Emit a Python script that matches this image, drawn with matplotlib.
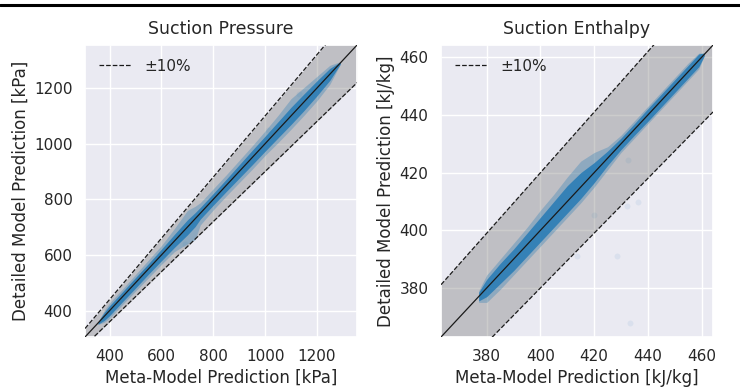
import numpy as np
import matplotlib
matplotlib.use("Agg")
import matplotlib.pyplot as plt
import seaborn as sns
from matplotlib.lines import Line2D

# ---- data ----
# suction pressure [kPa]: cloud envelope as residuals (detailed - meta) along meta axis
p_x = [355, 380, 400, 450, 500, 550, 600, 650, 700, 730, 750, 800, 850, 900, 950,
       1000, 1050, 1100, 1150, 1200, 1250, 1290]
p_halo_hi = [5, 22, 28, 28, 30, 32, 34, 45, 60, 45, 38, 38, 38, 40, 42,
             46, 52, 62, 52, 42, 32, 5]
p_halo_lo = [-5, -22, -28, -28, -30, -32, -34, -38, -60, -75, -42, -38, -38, -40, -42,
             -42, -46, -48, -48, -46, -36, -5]
p_core_hi = [4, 15, 18, 18, 19, 19, 21, 24, 26, 22, 21, 21, 22, 24, 26,
             27, 29, 31, 29, 26, 21, 4]
p_core_lo = [-4, -15, -18, -18, -19, -19, -21, -23, -28, -28, -21, -21, -22, -24, -26,
             -27, -29, -31, -31, -28, -22, -4]
p_outx = [1010, 1130, 690]
p_outy = [1050, 1180, 640]

# suction enthalpy [kJ/kg]
e_x = [377, 380, 385, 390, 395, 400, 405, 410, 415, 420, 425, 430, 435,
       440, 445, 450, 455, 459, 461]
e_halo_hi = [2, 4.5, 5, 5.5, 6, 7, 7.5, 8.5, 9, 7, 4, 3, 3, 3, 3, 3, 3, 2.5, 0.5]
e_halo_lo = [-2, -5, -5.5, -5.5, -5.5, -5.5, -5.5, -5.5, -5.5, -5, -4, -3, -3, -3, -3, -3, -3, -3, -0.5]
e_core_hi = [1.5, 3, 3.5, 3.5, 4, 4.5, 5, 5.5, 5, 3.5, 2.5, 2, 2, 2.2, 2.2, 2.2, 2.2, 2.2, 0.5]
e_core_lo = [-1.5, -3, -3.5, -4, -4, -4, -4, -4, -4, -3.5, -2.5, -2, -2,
             -2.2, -2.2, -2.2, -2.2, -2.2, -0.5]
e_outx = [432.8, 432.1, 436.5, 428.4, 413.6, 433.4, 419.8]
e_outy = [424.4, 408.3, 410.0, 391.0, 391.0, 367.9, 405.4]

p_lim = (305, 1355)
e_lim = (363, 464.3)
p_ticks = [400, 600, 800, 1000, 1200]
e_ticks = [380, 400, 420, 440, 460]

sns.set_theme(style="darkgrid")
plt.rcParams['font.family'] = ['DejaVu Sans']

fig = plt.figure(figsize=(7.4, 3.89), dpi=100)
ax1 = fig.add_axes([0.1149, 0.1337, 0.3676, 0.7506])
ax2 = fig.add_axes([0.596, 0.1337, 0.3676, 0.7506])

blue = '#1f77b4'


def draw_panel(ax, lim, band, x, hlo, hhi, clo, chi, ox, oy, ticks, title, unit):
    x = np.array(x, dtype=float)
    lo, hi = lim
    ref = np.array([lo, hi])
    ax.fill_between(ref, ref * (1 - band), ref * (1 + band), color='gray',
                    alpha=0.4, lw=0, zorder=2)
    ax.plot(ref, ref * (1 + band), 'k--', lw=0.9, zorder=4, label='±10%')
    ax.plot(ref, ref * (1 - band), 'k--', lw=0.9, zorder=4)
    ax.fill_between(x, x + np.array(hlo), x + np.array(hhi), color=blue,
                    alpha=0.3, lw=0, zorder=3)
    ax.fill_between(x, x + np.array(clo), x + np.array(chi), color=blue,
                    alpha=0.8, lw=0, zorder=3)
    ax.scatter(ox, oy, s=18, color=blue, alpha=0.08, lw=0, zorder=3)
    ax.plot(ref, ref, 'k-', lw=0.9, zorder=5)
    ax.set_xlim(lim)
    ax.set_ylim(lim)
    ax.set_xticks(ticks)
    ax.set_yticks(ticks)
    ax.tick_params(labelsize=11, pad=3)
    ax.set_title(title, fontsize=12.5, color='.15', pad=8)
    ax.set_xlabel(f'Meta-Model Prediction [{unit}]', fontsize=12, labelpad=3)
    ax.set_ylabel(f'Detailed Model Prediction [{unit}]', fontsize=12, labelpad=3)
    ax.legend(loc='upper left', frameon=False, fontsize=11, handlelength=2.2)


draw_panel(ax1, p_lim, 0.10, p_x, p_halo_lo, p_halo_hi, p_core_lo, p_core_hi,
           p_outx, p_outy, p_ticks, 'Suction Pressure', 'kPa')
draw_panel(ax2, e_lim, 0.05, e_x, e_halo_lo, e_halo_hi, e_core_lo, e_core_hi,
           e_outx, e_outy, e_ticks, 'Suction Enthalpy', 'kJ/kg')

# page rule across the top
fig.add_artist(Line2D([0, 1], [0.987, 0.987], color='black', lw=2.2,
                      transform=fig.transFigure))

fig.savefig('out.png', dpi=100)
